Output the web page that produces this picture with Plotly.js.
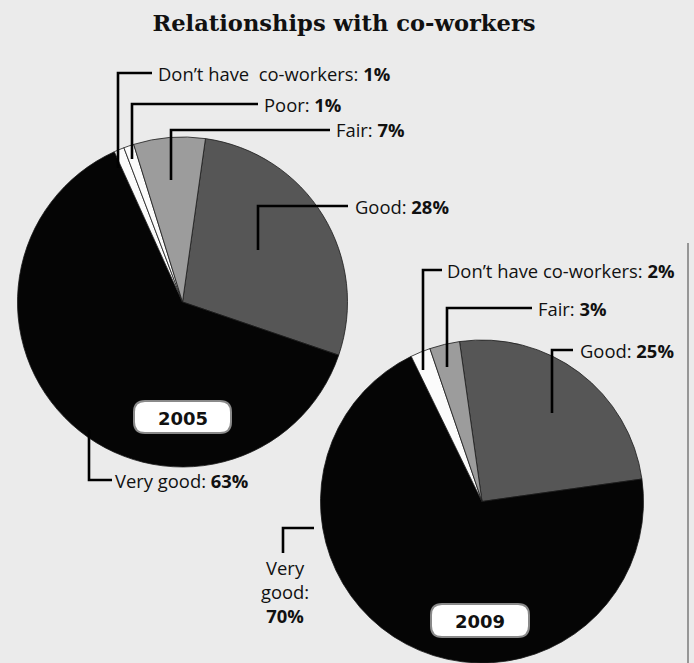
<!DOCTYPE html>
<html>
<head>
<meta charset="utf-8">
<script src="https://cdn.plot.ly/plotly-3.0.1.min.js"></script>
<style>
  html, body { margin: 0; padding: 0; background: #ebebeb; overflow: hidden; }
  #chart { width: 694px; height: 663px; }
</style>
</head>
<body>
<div id="chart"></div>
<script>
// ---------------- DATA ----------------
const chartTitle = 'Relationships with co-workers';
const years = ['2005', '2009'];

const labels2005 = ['Good', 'Very good', 'Don’t have  co-workers', 'Poor', 'Fair'];
const values2005 = [28, 63, 1, 1, 7];

const labels2009 = ['Good', 'Very good', 'Don’t have co-workers', 'Fair'];
const values2009 = [25, 70, 2, 3];

// ---------------- LAYOUT / STYLE ----------------
const W = 694, H = 663;
const X = p => p / W;
const Y = p => 1 - p / H;

const colorMap = {
  'Good': '#565656',
  'Very good': '#050505',
  'Don’t have  co-workers': '#fbfbfb',
  'Don’t have co-workers': '#fbfbfb',
  'Poor': '#fbfbfb',
  'Fair': '#9c9c9c'
};

// pie geometry in pixels: [x0, x1, ytop, ybottom]
const pieBox2005 = [17.5, 347.5, 137, 467];
const pieBox2009 = [320.5, 643.5, 340, 663];

function pieTrace(labels, values, box, rotation) {
  return {
    type: 'pie',
    labels: labels,
    values: values,
    sort: false,
    direction: 'clockwise',
    rotation: rotation,
    textinfo: 'none',
    hoverinfo: 'label+percent',
    showlegend: false,
    marker: {
      colors: labels.map(l => colorMap[l]),
      line: { color: '#1a1a1a', width: 0.8 }
    },
    domain: { x: [X(box[0]), X(box[1])], y: [Y(box[3]), Y(box[2])] }
  };
}

const traces = [
  pieTrace(labels2005, values2005, pieBox2005, 8),
  pieTrace(labels2009, values2009, pieBox2009, -8)
];

// Leader lines (pixel polylines) and label anchor positions per slice
const leaders2005 = [
  { pts: [[118, 168], [118, 73], [152, 73]], tx: 156, ty: 73 },   // Don't have
  { pts: [[132, 159], [132, 104], [258, 104]], tx: 262, ty: 104 }, // Poor
  { pts: [[171, 180], [171, 130], [330, 130]], tx: 334, ty: 130 }, // Fair
  { pts: [[258, 250], [258, 206], [348, 206]], tx: 353, ty: 206 }, // Good
  { pts: [[89, 430], [89, 480], [112, 480]], tx: 113, ty: 480 }    // Very good
];
const leaderIdx2005 = [2, 3, 4, 0, 1];

const leaders2009 = [
  { pts: [[423, 370], [423, 270], [442, 270]], tx: 445, ty: 270 }, // Don't have
  { pts: [[447, 367], [447, 308], [532, 308]], tx: 536, ty: 308 }, // Fair
  { pts: [[552, 413], [552, 350], [573, 350]], tx: 578, ty: 350 }, // Good
  { pts: [[314, 528], [283, 528], [283, 553]], tx: 285, ty: 591, center: true } // Very good
];
const leaderIdx2009 = [2, 3, 0, 1];

const labelFont = { family: '"Open Sans", sans-serif', size: 18.4, color: '#111' };

const shapes = [];
const annotations = [];

function addLeader(ld, label, value) {
  const d = ld.pts.map((p, i) => (i ? 'L' : 'M') + X(p[0]).toFixed(5) + ',' + Y(p[1]).toFixed(5)).join(' ');
  shapes.push({ type: 'path', xref: 'paper', yref: 'paper', path: d, line: { color: '#000', width: 2.6 } });
  if (ld.center) {
    const parts = label.split(' ');
    annotations.push({
      xref: 'paper', yref: 'paper', x: X(ld.tx), y: Y(ld.ty), xanchor: 'center', yanchor: 'middle',
      text: parts[0] + '<br>' + parts[1] + ':<br><b>' + value + '%</b>', align: 'center',
      showarrow: false, font: labelFont
    });
  } else {
    annotations.push({
      xref: 'paper', yref: 'paper', x: X(ld.tx), y: Y(ld.ty), xanchor: 'left', yanchor: 'middle',
      text: label.replace(/  /g, '&nbsp; ') + ': <b>' + value + '%</b>',
      showarrow: false, font: labelFont
    });
  }
}

leaders2005.forEach((ld, k) => addLeader(ld, labels2005[leaderIdx2005[k]], values2005[leaderIdx2005[k]]));
leaders2009.forEach((ld, k) => addLeader(ld, labels2009[leaderIdx2009[k]], values2009[leaderIdx2009[k]]));

// Rounded year tags
function roundRect(x0, y0, x1, y1, r) {
  const P = (x, y) => X(x).toFixed(5) + ',' + Y(y).toFixed(5);
  return 'M' + P(x0 + r, y0) + ' L' + P(x1 - r, y0) + ' Q' + P(x1, y0) + ' ' + P(x1, y0 + r) +
    ' L' + P(x1, y1 - r) + ' Q' + P(x1, y1) + ' ' + P(x1 - r, y1) +
    ' L' + P(x0 + r, y1) + ' Q' + P(x0, y1) + ' ' + P(x0, y1 - r) +
    ' L' + P(x0, y0 + r) + ' Q' + P(x0, y0) + ' ' + P(x0 + r, y0) + ' Z';
}
const tags = [
  { box: [134, 401, 231, 433], text: years[0] },
  { box: [431, 604, 529, 637], text: years[1] }
];
tags.forEach(t => {
  const b = t.box;
  shapes.push({ type: 'path', xref: 'paper', yref: 'paper', path: roundRect(b[0], b[1], b[2], b[3], 11),
    fillcolor: '#ffffff', line: { color: '#8a8a8a', width: 2 } });
  annotations.push({
    xref: 'paper', yref: 'paper', x: X((b[0] + b[2]) / 2), y: Y((b[1] + b[3]) / 2 + 1),
    xanchor: 'center', yanchor: 'middle', showarrow: false,
    text: '<b>' + t.text + '</b>',
    font: { family: '"DejaVu Sans", sans-serif', size: 18, color: '#111' }
  });
});

// right frame rule
shapes.push({ type: 'line', xref: 'paper', yref: 'paper', x0: X(688), x1: X(688), y0: Y(243), y1: Y(663),
  line: { color: '#7a7a7a', width: 1.5 } });

const layout = {
  width: W, height: H,
  margin: { l: 0, r: 0, t: 0, b: 0 },
  paper_bgcolor: '#ebebeb',
  plot_bgcolor: '#ebebeb',
  title: {
    text: '<b>' + chartTitle + '</b>',
    x: X(344), xanchor: 'center', y: Y(23), yanchor: 'middle',
    font: { family: '"DejaVu Serif", serif', size: 22.6, color: '#111' }
  },
  shapes: shapes,
  annotations: annotations
};

Plotly.newPlot('chart', traces, layout, { displayModeBar: false, staticPlot: true });
</script>
</body>
</html>
